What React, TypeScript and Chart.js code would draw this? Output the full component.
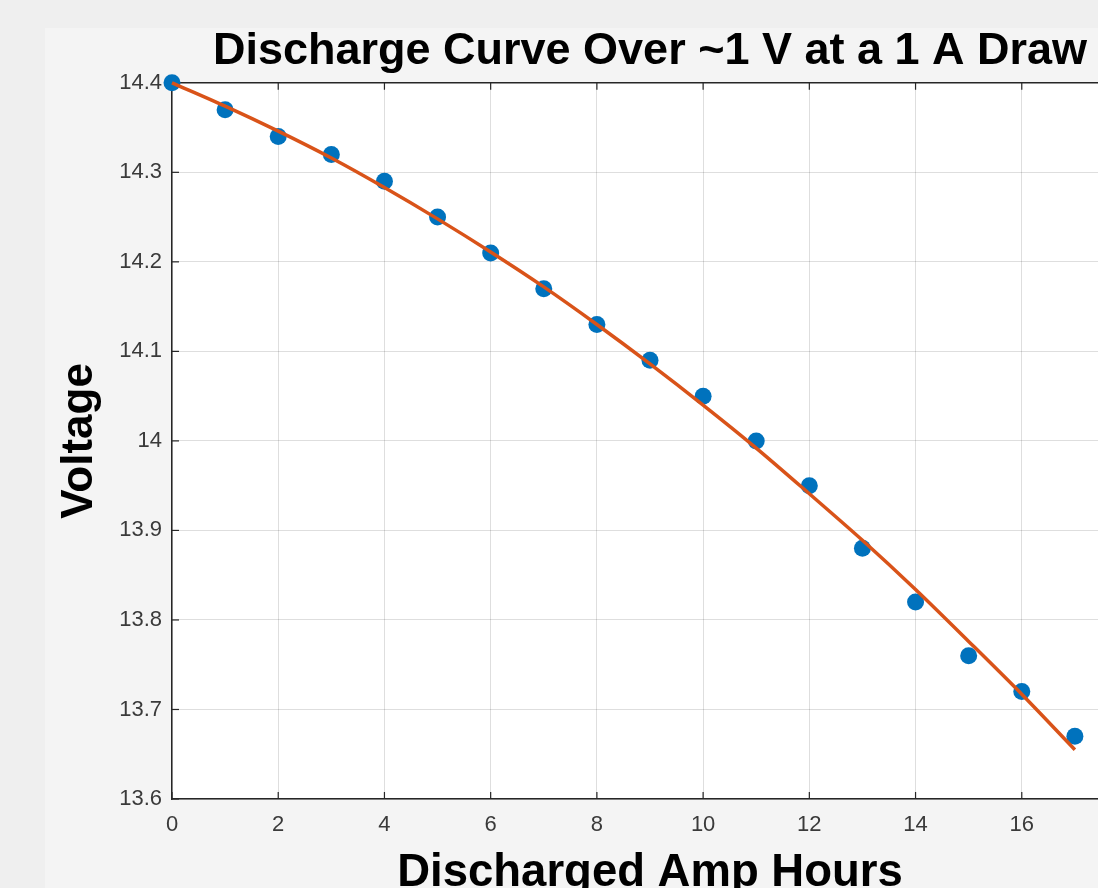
import React, { useEffect, useRef } from "react";
import { Chart, registerables } from "chart.js";

Chart.register(...registerables);

const ampHours = [0, 1, 2, 3, 4, 5, 6, 7, 8, 9, 10, 11, 12, 13, 14, 15, 16, 17];
const measuredVoltage = [14.40, 14.37, 14.34, 14.32, 14.29, 14.25, 14.21, 14.17, 14.13, 14.09, 14.05, 14.00, 13.95, 13.88, 13.82, 13.76, 13.72, 13.67];
const fitVoltage = [14.400, 14.374, 14.346, 14.316, 14.283, 14.248, 14.211, 14.172, 14.130, 14.086, 14.040, 13.992, 13.941, 13.889, 13.834, 13.776, 13.717, 13.655];
const xTicks = [0, 2, 4, 6, 8, 10, 12, 14, 16, 18];
const yTicks = [13.6, 13.7, 13.8, 13.9, 14.0, 14.1, 14.2, 14.3, 14.4];
const yTickLabels = ["13.6", "13.7", "13.8", "13.9", "14", "14.1", "14.2", "14.3", "14.4"];

const titleText = "Discharge Curve Over ~1 V at a 1 A Draw";
const xTitle = "Discharged Amp Hours";
const yTitle = "Voltage";

const FONT = "'Liberation Sans', Arial, Helvetica, sans-serif";
const AXIS_COLOR = "#262626";

const framePlugin = {
  id: "matlabFrame",
  beforeDraw(chart: any) {
    const { ctx, chartArea } = chart;
    ctx.save();
    ctx.fillStyle = "#ffffff";
    ctx.fillRect(chartArea.left, chartArea.top, chartArea.right - chartArea.left, chartArea.bottom - chartArea.top);
    ctx.restore();
  },
  beforeDatasetsDraw(chart: any) {
    const { ctx, chartArea } = chart;
    const xs = chart.scales.x;
    const ys = chart.scales.y;
    ctx.save();
    ctx.strokeStyle = AXIS_COLOR;
    ctx.lineWidth = 1.5;
    ctx.beginPath();
    ctx.moveTo(chartArea.left, chartArea.top);
    ctx.lineTo(chartArea.right, chartArea.top);
    ctx.stroke();
    ctx.lineWidth = 1.2;
    const len = 7;
    xTicks.forEach((v) => {
      const px = xs.getPixelForValue(v);
      ctx.beginPath();
      ctx.moveTo(px, chartArea.bottom);
      ctx.lineTo(px, chartArea.bottom - len);
      ctx.moveTo(px, chartArea.top);
      ctx.lineTo(px, chartArea.top + len);
      ctx.stroke();
    });
    yTicks.forEach((v) => {
      const py = ys.getPixelForValue(v);
      ctx.beginPath();
      ctx.moveTo(chartArea.left, py);
      ctx.lineTo(chartArea.left + len, py);
      ctx.stroke();
    });
    ctx.restore();
  },
};

export default function App() {
  const canvasRef = useRef<HTMLCanvasElement | null>(null);

  useEffect(() => {
    document.body.style.margin = "0";
    document.body.style.overflow = "hidden";
    document.documentElement.style.overflow = "hidden";
    const canvas = canvasRef.current;
    if (!canvas) return;
    const chart = new Chart(canvas, {
      type: "scatter",
      data: {
        datasets: [
          {
            type: "line",
            label: "Fit",
            data: ampHours.map((x, i) => ({ x, y: fitVoltage[i] })),
            borderColor: "#D95319",
            borderWidth: 3.5,
            pointRadius: 0,
            showLine: true,
            fill: false,
            tension: 0.3,
            clip: false as any,
            order: 0,
          },
          {
            type: "scatter",
            label: "Measured",
            data: ampHours.map((x, i) => ({ x, y: measuredVoltage[i] })),
            backgroundColor: "#0072BD",
            borderColor: "#0072BD",
            borderWidth: 0,
            pointRadius: 8.5,
            clip: false as any,
            order: 1,
          },
        ],
      },
      options: {
        responsive: false,
        animation: false,
        layout: { padding: { left: 0, right: 72, top: 0, bottom: 0 } },
        plugins: {
          legend: { display: false },
          tooltip: { enabled: false },
          title: {
            display: true,
            text: titleText,
            fullSize: false,
            color: "#000000",
            font: { family: FONT, size: 45, weight: "bold", lineHeight: 1.2 },
            padding: { top: 25, bottom: 3.8 },
          },
        },
        scales: {
          x: {
            type: "linear",
            min: 0,
            max: 18,
            afterBuildTicks: (scale: any) => {
              scale.ticks = xTicks.map((v) => ({ value: v }));
            },
            afterFit: (scale: any) => {
              scale.height = 141;
            },
            ticks: {
              color: "#3a3a3a",
              font: { family: FONT, size: 22 },
              padding: 13,
              maxRotation: 0,
              autoSkip: false,
              callback: (v: any) => String(v),
            },
            grid: { color: "rgba(0,0,0,0.13)", lineWidth: 1, drawTicks: false },
            border: { display: true, color: AXIS_COLOR, width: 1.5 },
            title: {
              display: true,
              text: xTitle,
              color: "#000000",
              font: { family: FONT, size: 45.5, weight: "bold", lineHeight: 1.2 },
              padding: { top: 0, bottom: 39 },
            },
          },
          y: {
            type: "linear",
            min: 13.6,
            max: 14.4,
            afterBuildTicks: (scale: any) => {
              scale.ticks = yTicks.map((v) => ({ value: v }));
            },
            afterFit: (scale: any) => {
              scale.width = 172;
            },
            ticks: {
              color: "#3a3a3a",
              font: { family: FONT, size: 22 },
              padding: 10,
              autoSkip: false,
              callback: (v: any) => {
                const idx = yTicks.findIndex((t) => Math.abs(t - Number(v)) < 1e-6);
                return idx >= 0 ? yTickLabels[idx] : "";
              },
            },
            grid: { color: "rgba(0,0,0,0.13)", lineWidth: 1, drawTicks: false },
            border: { display: true, color: AXIS_COLOR, width: 1.5 },
            title: {
              display: true,
              text: yTitle,
              color: "#000000",
              font: { family: FONT, size: 44, weight: "bold", lineHeight: 1.2 },
              padding: { top: 53, bottom: 0 },
            },
          },
        },
      },
      plugins: [framePlugin],
    } as any);
    return () => chart.destroy();
  }, []);

  return (
    <div style={{ position: "fixed", left: 0, top: 0, width: 1200, height: 940, background: "#efefef" }}>
      <div style={{ position: "absolute", left: 45, top: 28, width: 1155, height: 912, background: "#f4f4f4" }} />
      <canvas ref={canvasRef} width={1200} height={940} style={{ position: "absolute", left: 0, top: 0, width: 1200, height: 940 }} />
    </div>
  );
}
